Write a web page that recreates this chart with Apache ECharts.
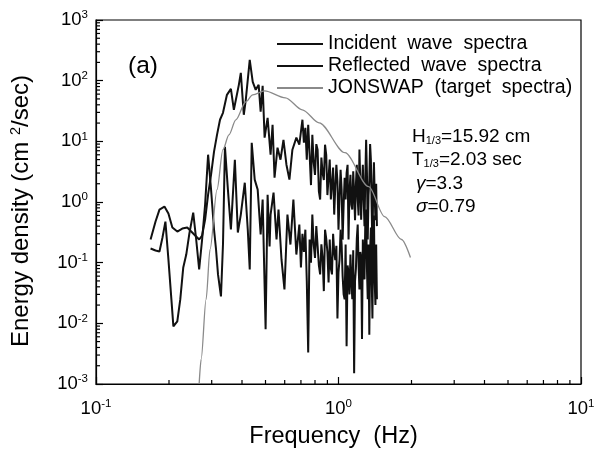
<!DOCTYPE html>
<html><head><meta charset="utf-8">
<script src="https://cdn.jsdelivr.net/npm/echarts@6/dist/echarts.min.js"></script>
<style>html,body{margin:0;padding:0;background:#fff}#c{width:599px;height:454px}</style>
</head><body><div id="c"></div>
<script>
// ---- data ----
const incidentFreq = [0.1679,0.1760,0.1827,0.1915,0.1989,0.2065,0.2164,0.2269,0.2378,0.2470,0.2564,0.2663,0.2739,0.2818,0.2899,0.2982,0.3067,0.3155,0.3246,0.3339,0.3467,0.3600,0.3703,0.3773,0.3882,0.3955,0.4069,0.4146,0.4305,0.4429,0.4556,0.4686,0.4775,0.4866,0.4958,0.5101,0.5247,0.5347,0.5448,0.5604,0.5765,0.5930,0.6100,0.6275,0.6455,0.6703,0.6895,
  0.70,0.71,0.72,0.73,0.74,0.75,0.76,0.77,0.78,0.79,0.80,0.81,0.82,0.83,0.84,0.85,0.86,0.87,0.88,0.89,0.90,0.91,0.92,0.93,0.94,0.95,0.96,0.97,0.98,0.99,1.00,1.01,1.02,1.03,1.04,1.05,1.06,1.07,1.08,1.09,1.10,1.11,1.12,1.13,1.14,1.15,1.16,1.17,1.18,1.19,1.20,1.21,1.22,1.23,1.24,1.25,1.26,1.27,1.28,1.29,1.30,1.31,1.32,1.33,1.34,1.35,1.36,1.37,1.38,1.39,1.40,1.41,1.42,1.43,1.44];
const incidentValue = [0.241,0.476,0.750,0.840,0.645,0.379,0.326,0.365,0.379,0.326,0.280,0.241,0.280,0.514,1.32,2.82,6.75,12.8,22.7,29.5,58.4,73.3,33.1,30.7,85.3,134.4,27.4,48.3,219.9,95.6,70.6,85.3,30.7,82.1,11.5,24.4,6.02,18.8,2.52,7.85,4.98,10.6,4.12,2.34,7.28,11.5,8.79,
  8.8,22.7,9.5,16.7,5.0,18.8,6.2,1.9,12.8,4.5,2.8,9.0,7.3,1.5,1.1,5.4,3.0,2.3,8.8,6.0,1.3,2.5,5.0,1.1,2.0,3.7,0.62,1.8,4.1,2.2,0.35,1.2,3.4,1.6,0.24,0.9,2.5,1.1,3.0,4.1,0.24,1.5,2.8,0.9,0.75,3.2,1.4,0.5,2.0,4.1,1.1,0.6,7.3,2.1,0.51,1.8,4.1,1.1,0.4,2.6,10.6,3.0,0.24,1.3,2.3,9.0,5.0,0.8,0.165,1.6,4.5,1.32,0.5,2.0,0.4];

const reflectedFreq = [0.1679,0.1760,0.1827,0.1880,0.1933,0.1989,0.2046,0.2085,0.2164,0.2226,0.2290,0.2356,0.2423,0.2517,0.2589,0.2663,0.2739,0.2818,0.2899,0.2982,0.3067,0.3126,0.3185,0.3276,0.3339,0.3402,0.3499,0.3600,0.3738,0.3845,0.3955,0.4107,0.4225,0.4305,0.4387,0.4513,0.4642,0.4775,0.4866,0.5005,0.5101,0.5198,0.5247,0.5397,0.5552,0.5657,0.5820,0.5986,0.6158,0.6335,0.6516,0.6703,0.6895,
  0.70,0.71,0.72,0.73,0.74,0.75,0.76,0.77,0.78,0.79,0.80,0.81,0.82,0.83,0.84,0.85,0.86,0.87,0.88,0.89,0.90,0.91,0.92,0.93,0.94,0.95,0.96,0.97,0.98,0.99,1.00,1.01,1.02,1.03,1.04,1.05,1.06,1.07,1.08,1.09,1.10,1.11,1.12,1.13,1.14,1.15,1.16,1.17,1.18,1.19,1.20,1.21,1.22,1.23,1.24,1.25,1.26,1.27,1.28,1.29,1.30,1.31,1.32,1.33,1.34,1.35,1.36,1.37,1.38,1.39,1.40,1.41,1.42,1.43,1.44];
const reflectedValue = [0.171,0.159,0.153,0.260,0.476,0.113,0.0248,0.00893,0.0108,0.0248,0.0834,0.136,0.291,0.669,0.241,0.0773,0.241,0.906,6.02,1.60,0.352,0.165,0.0640,0.0278,0.199,8.15,1.60,0.352,4.98,0.314,0.621,2.08,0.352,0.0773,9.48,2.34,1.60,0.291,1.095,0.00796,1.32,0.185,0.621,1.43,0.241,0.750,0.113,0.0362,0.621,0.199,1.095,0.136,0.425,
  0.083,0.30,0.15,0.35,0.05,0.0033,0.24,0.10,0.62,0.20,0.12,0.40,0.43,0.09,0.064,0.20,0.12,0.034,0.35,0.25,0.15,0.047,0.24,0.08,0.064,0.30,0.15,0.11,0.19,0.012,0.07,0.113,0.35,0.2,0.06,0.03,0.025,0.20,0.0042,0.09,0.07,0.03,0.136,0.05,0.025,0.16,0.0015,0.05,0.08,0.25,0.425,0.09,0.036,0.15,0.12,0.0055,0.24,0.11,0.053,0.50,0.75,0.08,0.025,0.2,0.0065,0.15,0.38,0.06,0.012,0.3,0.6,0.05,0.02,0.2,0.025];

const jonswapFreq = [0.2663,0.2714,0.2844,0.2953,0.3155,0.3338,0.3533,0.3773,0.4146,0.4428,0.4957,0.6042,0.7090,0.8320,1.063,1.332,1.549,1.818,1.980];
const jonswapValue = [0.001,0.00256,0.0248,0.165,1.60,7.28,12.8,22.6,44.8,58.4,67.9,52.1,33.1,20.2,6.49,1.79,0.575,0.241,0.122];

const seriesNames = ['Incident  wave  spectra', 'Reflected  wave  spectra', 'JONSWAP  (target  spectra)'];
const xMinorTicks = [0.2,0.3,0.4,0.5,0.6,0.7,0.8,0.9,2,3,4,5,6,7,8,9];
const yMinorTicks = [];
[0.001,0.01,0.1,1,10,100].forEach(d => { for (let k = 2; k <= 9; k++) yMinorTicks.push(+(d*k).toPrecision(3)); });

const FONT = 'Liberation Sans, Arial, sans-serif';
const zip = (a, b) => a.map((v, i) => [v, b[i]]);
const supLabel = v => '{b|10}{s|' + Math.round(Math.log10(v)) + '}';
const labelRich = {
  b: { fontSize: 18.5, fontFamily: FONT, color: '#000' },
  s: { fontSize: 11.5, fontFamily: FONT, color: '#000', padding: [0, 0, 10, 0] }
};

const chart = echarts.init(document.getElementById('c'), null, { renderer: 'canvas' });
chart.setOption({
  animation: false,
  backgroundColor: '#fff',
  grid: { left: 92, right: 18, top: 20, bottom: 69, show: true, borderColor: '#000', borderWidth: 1.2, backgroundColor: 'transparent' },
  legend: {
    orient: 'vertical', left: 277, top: 33, padding: 0, icon: 'rect', itemWidth: 46, itemHeight: 2, itemGap: 0,
    textStyle: { fontSize: 19.5, fontFamily: FONT, color: '#000', lineHeight: 22 },
    data: seriesNames
  },
  xAxis: {
    type: 'log', logBase: 10, min: 0.1, max: 10, splitNumber: 2,
    axisLine: { lineStyle: { color: '#000', width: 1.2 } },
    axisTick: { inside: true, length: 7, lineStyle: { color: '#000', width: 1.2 } },
    splitLine: { show: false },
    axisLabel: { formatter: supLabel, rich: labelRich, margin: 14, color: '#000' },
    name: 'Frequency  (Hz)', nameLocation: 'middle', nameGap: 41,
    nameTextStyle: { fontSize: 23.5, fontFamily: FONT, color: '#000', padding: [0, 10, 0, 0] }
  },
  yAxis: {
    type: 'log', logBase: 10, min: 0.001, max: 1000, splitNumber: 6,
    axisLine: { lineStyle: { color: '#000', width: 1.2 } },
    axisTick: { inside: true, length: 7, lineStyle: { color: '#000', width: 1.2 } },
    splitLine: { show: false },
    axisLabel: { formatter: supLabel, rich: labelRich, margin: 8, color: '#000' },
    name: 'Energy density (cm {s|2}/sec)', nameLocation: 'middle', nameGap: 61,
    nameTextStyle: { fontSize: 24, fontFamily: FONT, color: '#000', padding: [0, 18, 0, 0],
      rich: { s: { fontSize: 14.5, fontFamily: FONT, color: '#000', padding: [0, 0, 12, 0] } } }
  },
  graphic: [
    { type: 'text', left: 128, top: 54, style: { text: '(a)', fontSize: 24.5, fontFamily: FONT, fill: '#000' } },
    { type: 'text', left: 412, top: 127, style: { text: 'H{sub|1/3}=15.92 cm', fontSize: 19, fontFamily: FONT, fill: '#000',
        rich: { sub: { fontSize: 11, fontFamily: FONT, fill: '#000', padding: [8, 0, 0, 0] } } } },
    { type: 'text', left: 412, top: 150, style: { text: 'T{sub|1/3}=2.03 sec', fontSize: 19, fontFamily: FONT, fill: '#000',
        rich: { sub: { fontSize: 11, fontFamily: FONT, fill: '#000', padding: [8, 0, 0, 0] } } } },
    { type: 'text', left: 416, top: 174, style: { text: '{g|γ}=3.3', fontSize: 19, fontFamily: FONT, fill: '#000',
        rich: { g: { fontSize: 19, fontStyle: 'italic', fontFamily: FONT, fill: '#000' } } } },
    { type: 'text', left: 416, top: 197, style: { text: '{g|σ}=0.79', fontSize: 19, fontFamily: FONT, fill: '#000',
        rich: { g: { fontSize: 19, fontStyle: 'italic', fontFamily: FONT, fill: '#000' } } } }
  ],
  series: [
    { name: seriesNames[0], type: 'line', symbol: 'none', data: zip(incidentFreq, incidentValue),
      lineStyle: { color: '#111', width: 2 }, itemStyle: { color: '#111' }, z: 3 },
    { name: seriesNames[1], type: 'line', symbol: 'none', data: zip(reflectedFreq, reflectedValue),
      lineStyle: { color: '#111', width: 2 }, itemStyle: { color: '#111' }, z: 3 },
    { name: seriesNames[2], type: 'line', symbol: 'none', smooth: 0.3, smoothMonotone: 'x', data: zip(jonswapFreq, jonswapValue),
      lineStyle: { color: '#8a8a8a', width: 1.3 }, itemStyle: { color: '#8a8a8a' }, z: 4 },
    { type: 'custom', silent: true, clip: false, z: 5, data: xMinorTicks.map(v => [v, 0.001]),
      renderItem: (params, api) => { const p = api.coord([api.value(0), api.value(1)]);
        return { type: 'line', shape: { x1: p[0], y1: p[1], x2: p[0], y2: p[1] - 4 }, style: { stroke: '#000', lineWidth: 1.2 } }; } },
    { type: 'custom', silent: true, clip: false, z: 5, data: yMinorTicks.map(v => [0.1, v]),
      renderItem: (params, api) => { const p = api.coord([api.value(0), api.value(1)]);
        return { type: 'line', shape: { x1: p[0], y1: p[1], x2: p[0] + 4, y2: p[1] }, style: { stroke: '#000', lineWidth: 1.2 } }; } }
  ]
});
</script></body></html>
